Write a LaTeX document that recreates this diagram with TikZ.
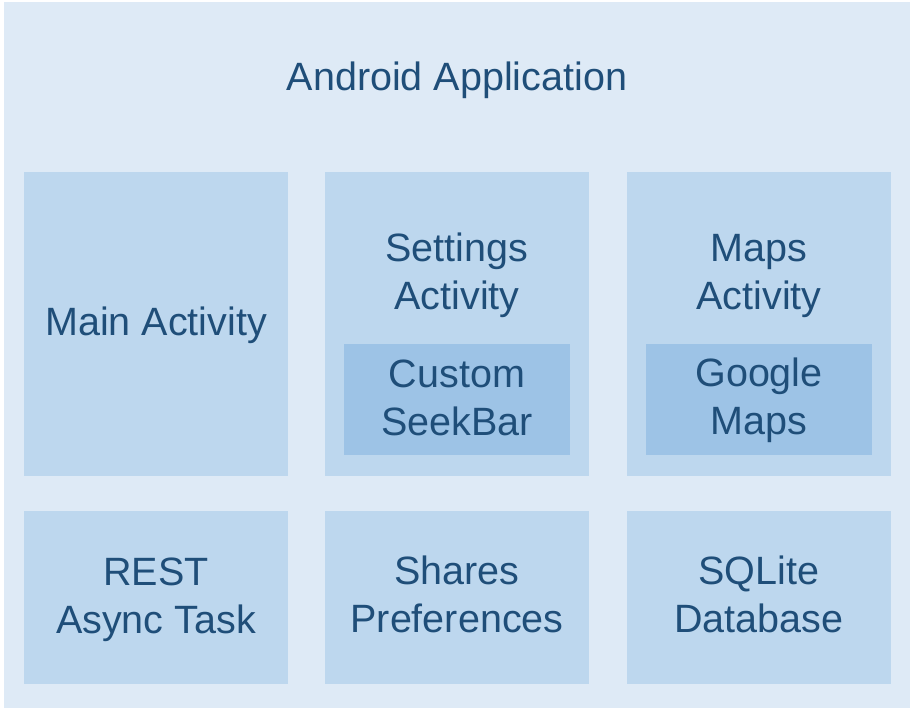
\documentclass[tikz,border=0pt]{standalone}
\usepackage{fontspec}
\setmainfont{Liberation Sans}
\definecolor{appbg}{RGB}{222,234,246}
\definecolor{boxbg}{RGB}{189,215,238}
\definecolor{innerbg}{RGB}{157,195,230}
\definecolor{txt}{RGB}{31,78,121}
\begin{document}
\begin{tikzpicture}[x=1pt, y=1pt,
  every node/.style = {text=txt, font=\fontsize{39.5}{48}\selectfont, align=center, inner sep=0pt},
  app/.style = {fill=appbg, minimum width=906pt, minimum height=706pt},
  comp/.style = {fill=boxbg, minimum width=264pt},
  sub/.style = {fill=innerbg, minimum width=226pt, minimum height=111pt}]
\useasboundingbox (0,0) rectangle (915,712);
\node[app] (app) at (457,357) {};
\node (title) at (457,632) {Android Application};
\node[comp, minimum height=304pt] (main) at (156,388) {};
\node (maintxt) at (156,387) {Main Activity};
\node[comp, minimum height=304pt] (settings) at (457,388) {};
\node[comp, minimum height=304pt] (maps) at (759,388) {};
\node (settingstxt) at (457,437) {Settings\\Activity};
\node (mapstxt) at (759,436) {Maps\\Activity};
\node[sub] (seekbar) at (457,312.5) {};
\node[sub] (google) at (759,312.5) {};
\node (seekbartxt) at (457,314.5) {Custom\\SeekBar};
\node (googletxt) at (759,312) {Google\\Maps};
\node[comp, minimum height=173pt] (rest) at (156,114.5) {};
\node[comp, minimum height=173pt] (prefs) at (457,114.5) {};
\node[comp, minimum height=173pt] (sqlite) at (759,114.5) {};
\node (resttxt) at (156,112.5) {REST\\Async Task};
\node (prefstxt) at (457,117.5) {Shares\\Preferences};
\node (sqlitetxt) at (759,117.5) {SQLite\\Database};
\end{tikzpicture}
\end{document}
